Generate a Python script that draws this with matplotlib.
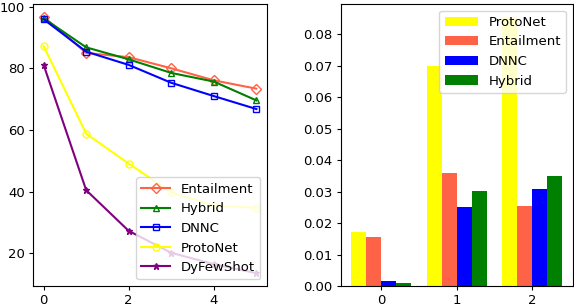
import numpy as np
import matplotlib
matplotlib.use("Agg")
import matplotlib.pyplot as plt

# left panel: accuracy vs step
steps = [0, 1, 2, 3, 4, 5]
entailment = [96.7, 85.0, 83.6, 80.0, 76.1, 73.4]
hybrid = [96.2, 86.8, 82.9, 78.5, 75.7, 69.6]
dnnc = [95.9, 85.4, 81.1, 75.3, 71.0, 66.8]
protonet = [87.2, 58.8, 49.1, 39.8, 35.5, 34.8]
dyfewshot = [81.1, 40.5, 27.3, 20.2, 16.5, 13.6]

# right panel: bar groups
groups = [0, 1, 2]
bar_protonet = [0.0171, 0.0699, 0.0853]
bar_entailment = [0.0154, 0.0359, 0.0254]
bar_dnnc = [0.0016, 0.0250, 0.0308]
bar_hybrid = [0.0010, 0.0301, 0.0349]

fig = plt.figure(figsize=(5.74, 3.06), dpi=100)
ax1 = fig.add_axes([0.0575, 0.0654, 0.4077, 0.9216])
ax2 = fig.add_axes([0.5935, 0.0654, 0.4042, 0.9216])

ax1.plot(steps, entailment, color="tomato", marker="D", mfc="none", ms=5, label="Entailment")
ax1.plot(steps, hybrid, color="green", marker="^", mfc="none", ms=5, label="Hybrid")
ax1.plot(steps, dnnc, color="blue", marker="s", mfc="none", ms=5, label="DNNC")
ax1.plot(steps, protonet, color="yellow", marker="o", mfc="none", ms=5, label="ProtoNet")
ax1.plot(steps, dyfewshot, color="purple", marker="*", ms=5, label="DyFewShot")
ax1.set_yticks([20, 40, 60, 80, 100])
ax1.legend(loc="lower right", fontsize=9.5, handlelength=2.2)

x = np.array(groups)
w = 0.2
ax2.bar(x - 1.5 * w, bar_protonet, w, color="yellow", label="ProtoNet")
ax2.bar(x - 0.5 * w, bar_entailment, w, color="tomato", label="Entailment")
ax2.bar(x + 0.5 * w, bar_dnnc, w, color="blue", label="DNNC")
ax2.bar(x + 1.5 * w, bar_hybrid, w, color="green", label="Hybrid")
ax2.set_xticks(groups)
ax2.legend(loc="upper right", fontsize=9.5, handlelength=2.5)

for ax in (ax1, ax2):
    ax.tick_params(labelsize=9.5, length=3, pad=3)

fig.savefig("out.png", dpi=100)
